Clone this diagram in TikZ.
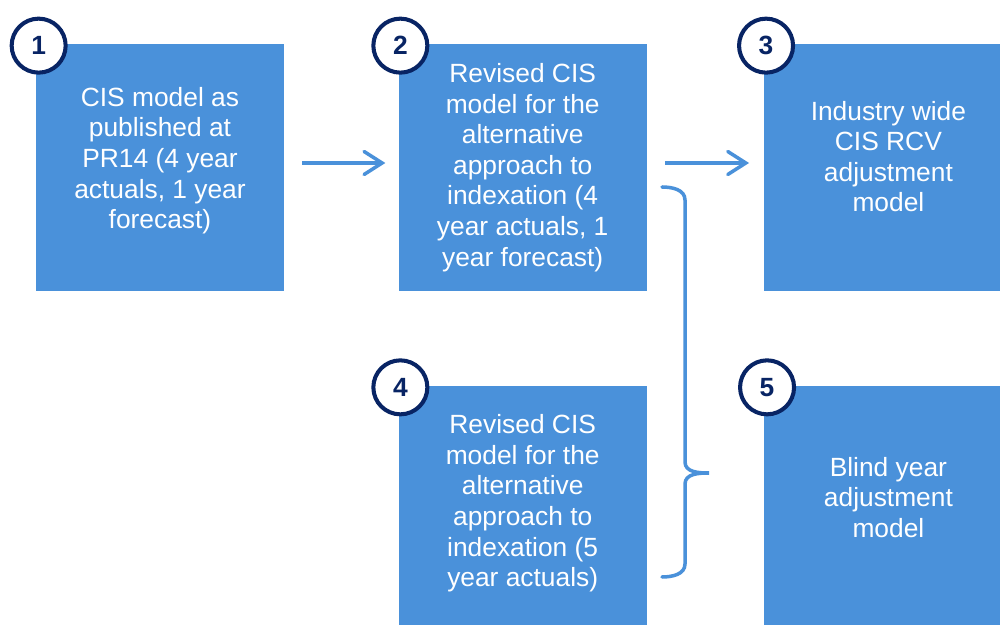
\documentclass[tikz,border=0pt]{standalone}
\usepackage{fontspec}
\setmainfont{Liberation Sans}
\usepackage{xcolor}
\usepackage{tikz}
\usetikzlibrary{positioning,arrows.meta}

\definecolor{boxblue}{RGB}{74,145,218}
\definecolor{numnavy}{RGB}{8,36,100}

\begin{document}
\begin{tikzpicture}[
  box/.style={fill=boxblue, text=white, minimum width=4.96cm, minimum height=4.94cm,
    inner sep=0pt, align=center, font=\fontsize{15}{17.4}\selectfont},
  num/.style={circle, draw=numnavy, fill=white, line width=2.3pt, minimum size=1.08cm,
    inner sep=0pt, text=numnavy, font=\fontsize{15}{17}\selectfont\bfseries},
  link/.style={draw=boxblue, line width=2pt,
    -{Straight Barb[length=0.36cm,width=0.46cm,line cap=round]}}
]
\useasboundingbox (0,0) rectangle (20,12.5);
\clip (0,0) rectangle (20,12.5);
\fill[white] (0,0) rectangle (20,12.5);

\node[box, text depth=0.38cm] (b1) at (3.2,9.15) {CIS model as\\published at\\PR14 (4 year\\actuals, 1 year\\forecast)};
\node[box, right=2.28cm of b1] (b2) {Revised CIS\\model for the\\alternative\\approach to\\indexation (4\\year actuals, 1\\year forecast)};
\node[box, right=2.34cm of b2, text depth=0.44cm] (b3) {Industry wide\\CIS RCV\\adjustment\\model};
\node[box, below=1.88cm of b2, text depth=0.34cm] (b4) {Revised CIS\\model for the\\alternative\\approach to\\indexation (5\\year actuals)};
\node[box, below=1.88cm of b3, text depth=0.48cm] (b5) {Blind year\\adjustment\\model};

% numbers
\node[num] (n1) at ([xshift=0.06cm,yshift=-0.04cm]b1.north west) {1};
\node[num] (n2) at ([xshift=0.04cm,yshift=-0.04cm]b2.north west) {2};
\node[num] (n3) at ([xshift=0.04cm,yshift=-0.04cm]b3.north west) {3};
\node[num] (n4) at ([xshift=0.04cm,yshift=-0.04cm]b4.north west) {4};
\node[num] (n5) at ([xshift=0.06cm,yshift=-0.04cm]b5.north west) {5};

% arrows
\draw[link] ([xshift=0.36cm,yshift=0.09cm]b1.east) -- ([xshift=-0.26cm,yshift=0.09cm]b2.west);
\draw[link] ([xshift=0.36cm,yshift=0.09cm]b2.east) -- ([xshift=-0.3cm,yshift=0.09cm]b3.west);

% brace
\coordinate (bt) at (13.24,8.76);
\coordinate (bb) at (13.24,0.96);
\coordinate (tip) at (14.18,3.04);
\draw[boxblue, line width=2pt, line cap=round]
  (bt) to[out=0,in=90] ++(0.46,-0.26) -- (13.7,3.26) to[out=-90,in=180] (tip)
  to[out=180,in=90] (13.7,2.82) -- (13.7,1.22) to[out=-90,in=0] (bb);
\end{tikzpicture}
\end{document}
